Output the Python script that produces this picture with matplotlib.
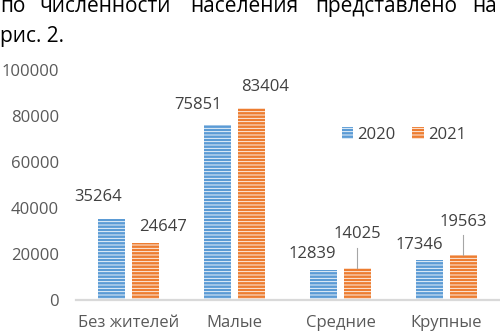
import numpy as np
import matplotlib
matplotlib.use("Agg")
import matplotlib.pyplot as plt

categories = ["Без жителей", "Малые", "Средние", "Крупные"]
years = ["2020", "2021"]
values_2020 = [35264, 75851, 12839, 17346]
values_2021 = [24647, 83404, 14025, 19563]
y_ticks = [0, 20000, 40000, 60000, 80000, 100000]

COLORS = ["#5B9BD5", "#ED7D31"]
TEXT_C = "#404040"
TICK_C = "#595959"

# label offsets in points (dx, dy of label centre above bar top), Excel-like placement
OFFSETS = [
    [(-10, 16), (-14, 14.5), (-8, 11.5), (-7, 11)],
    [(13, 11.5), (10, 15), (0, 24), (0, 24)],
]
LEADER = [[False] * 4, [False, False, True, True]]

plt.rcParams["font.family"] = ["Open Sans", "DejaVu Sans"]
plt.rcParams["hatch.linewidth"] = 0.6

fig = plt.figure(figsize=(5.0, 3.34), dpi=100)

# body text above the chart (justified line + short line)
fig.text(0.0, 0.964, "по", fontsize=15, color="black", ha="left", va="baseline")
mid_words = ["численности", "населения", "представлено"]
mid_x = [0.211, 0.488, 0.773]
for w, wx in zip(mid_words, mid_x):
    fig.text(wx, 0.964, w, fontsize=15, color="black", ha="center", va="baseline")
fig.text(0.995, 0.964, "на", fontsize=15, color="black", ha="right", va="baseline")
fig.text(0.0, 0.875, "рис. 2.", fontsize=15, color="black", ha="left", va="baseline")

ax = fig.add_axes([0.151, 0.102, 0.848, 0.689])

x = np.arange(len(categories))
BAR_W = 0.255
SHIFT = 0.16
series = [values_2020, values_2021]
for k, (vals, year) in enumerate(zip(series, years)):
    xs = x + (-SHIFT if k == 0 else SHIFT)
    ax.bar(xs, vals, BAR_W, color=COLORS[k], edgecolor="white",
           linewidth=0, hatch="-----", label=year, zorder=2)
    for i, (xx, v) in enumerate(zip(xs, vals)):
        dx, dy = OFFSETS[k][i]
        ax.annotate(f"{v}", (xx, v), xytext=(dx, dy), textcoords="offset points",
                    ha="center", va="center", fontsize=12, color=TEXT_C)
        if LEADER[k][i]:
            ax.plot([xx, xx], [v, v + 8600], color="#A6A6A6", lw=0.8, zorder=3)

ax.set_xlim(-0.5, 3.5)
ax.set_ylim(0, 100000)
ax.set_yticks(y_ticks)
ax.set_yticklabels([str(t) for t in y_ticks], fontsize=12, color=TICK_C)
ax.set_xticks(x)
ax.set_xticklabels(categories, fontsize=12, color=TICK_C)
ax.tick_params(axis="both", length=0)
ax.tick_params(axis="y", pad=12)
ax.tick_params(axis="x", pad=11)
for s in ["top", "right", "left"]:
    ax.spines[s].set_visible(False)
ax.spines["bottom"].set_color("#D9D9D9")
ax.spines["bottom"].set_linewidth(1.6)
ax.spines["bottom"].set_zorder(3)

ax.legend(loc="center", bbox_to_anchor=(0.808, 0.596), bbox_transform=fig.transFigure,
          ncol=2, frameon=False, fontsize=12, labelcolor=TEXT_C,
          handlelength=0.7, handleheight=0.7, handletextpad=0.25, columnspacing=1.0)

fig.savefig("out.png", dpi=100)
